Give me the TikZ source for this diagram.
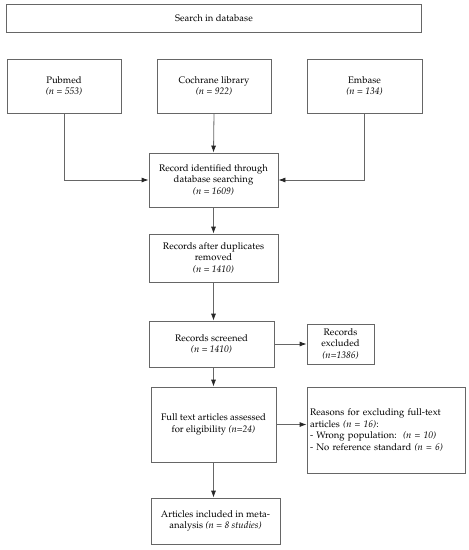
\documentclass[tikz,border=0pt]{standalone}
\usepackage[T1]{fontenc}
\usepackage{mathpazo}
\usetikzlibrary{arrows.meta}
\begin{document}
\begin{tikzpicture}[x=1pt,y=-1pt,
  box/.style={draw=black!60,line width=0.8pt,fill=white,align=center,inner sep=2pt,
    font=\fontsize{9.5}{11.7}\selectfont,text=black},
  conn/.style={draw=black!60,line width=0.8pt,-{Latex[length=7pt,width=5pt,color=black!85]}}]
\useasboundingbox (0,0) rectangle (469,550);
\node[box,minimum width=415pt,minimum height=27.5pt] (top) at (214,18.25) {Search in database};
\node[box,minimum width=114pt,minimum height=54pt] (pub) at (64,86) {Pubmed\\\textit{(n = 553)}};
\node[box,minimum width=114pt,minimum height=54pt] (coch) at (214,86) {Cochrane library\\\textit{(n = 922)}};
\node[box,minimum width=115pt,minimum height=54pt] (emb) at (364.5,86) {Embase\\\textit{(n = 134)}};
\node[box,minimum width=129pt,minimum height=54pt] (rec) at (213.5,180) {Record identified through\\database searching\\\textit{(n = 1609)}};
\node[box,minimum width=129pt,minimum height=48pt] (dup) at (213.5,258) {Records after duplicates\\removed\\\textit{(n = 1410)}};
\node[box,minimum width=125pt,minimum height=46pt] (scr) at (211.5,344) {Records screened\\\textit{(n = 1410)}};
\node[box,minimum width=67pt,minimum height=40pt] (exc) at (340.5,344) {Records\\excluded\\\textit{(n=1386)}};
\node[box,minimum width=125pt,minimum height=75pt] (full) at (213.5,424.5) {Full text articles assessed\\for eligibility \textit{(n=24)}};
\node[box,minimum width=158pt,minimum height=86pt,align=left,text width=152pt] (reas) at (386,430) {Reasons for excluding full-text\\articles \textit{(n = 16)}:\\- Wrong population:\ \ \textit{(n = 10)}\\- No reference standard \textit{(n = 6)}};
\node[box,minimum width=129pt,minimum height=46pt] (incl) at (215.5,521) {Articles included in meta-\\analysis \textit{(n = 8 studies)}};
\draw[conn] (pub.south) |- (rec.west);
\draw[conn] (coch.south) -- (rec.north);
\draw[conn] (emb.south) |- (rec.east);
\draw[conn] (rec.south) -- (dup.north);
\draw[conn] (dup.south) -- (dup.south |- scr.north);
\draw[conn] (scr.east) -- (exc.west);
\draw[conn] (scr.south -| dup.south) -- (dup.south |- full.north);
\draw[conn] (full.east) -- (full.east -| reas.west);
\draw[conn] (full.south -| dup.south) -- (dup.south |- incl.north);
\end{tikzpicture}
\end{document}
